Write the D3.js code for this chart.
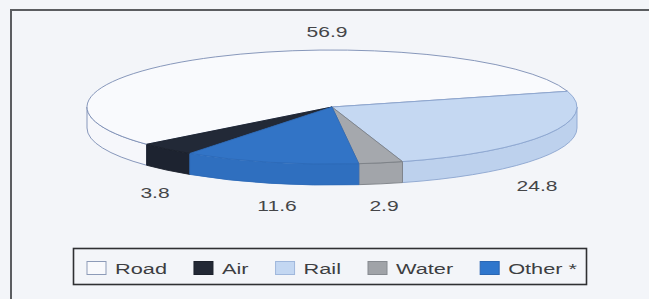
<!DOCTYPE html>
<html>
<head>
<meta charset="utf-8">
<script src="https://cdn.jsdelivr.net/npm/d3@7/dist/d3.min.js"></script>
<style>
  html, body { margin: 0; padding: 0; background: #f3f5f9; }
  svg { display: block; }
  text { font-family: "Liberation Sans", Arial, Helvetica, sans-serif; }
</style>
</head>
<body>
<svg id="chart" width="649" height="299"></svg>
<script>
// ---- data ----
const categories = ["Road", "Air", "Rail", "Water", "Other *"];
const values = [56.9, 3.8, 24.8, 2.9, 11.6];
const valueLabels = ["56.9", "3.8", "24.8", "2.9", "11.6"];
// clockwise order of the slices around the pie, starting at the Rail slice
const sliceOrder = ["Rail", "Water", "Other *", "Air", "Road"];

// ---- styles ----
const topFill = { "Road": "#f9fafd", "Air": "#222937", "Rail": "#c5d8f2", "Water": "#a5a8ad", "Other *": "#3274c6" };
const sideFill = { "Road": "#f6f7fb", "Air": "#1d2330", "Rail": "#bdd1ed", "Water": "#a2a5aa", "Other *": "#2f6fbf" };
const strokeCol = { "Road": "#7a8cb3", "Air": "#1b202b", "Rail": "#8ba5cf", "Water": "#7c8086", "Other *": "#2d6ab8" };
const swatchFill = { "Road": "#f8f9fc", "Air": "#222835", "Rail": "#c3d7f2", "Water": "#a0a3a8", "Other *": "#2f76cc" };
const swatchStroke = { "Road": "#8d9bb8", "Air": "#1b202b", "Rail": "#9fb7dc", "Water": "#868a90", "Other *": "#2a66b2" };

// ---- layout ----
const cx = 332, cy = 107, rx = 245, ry = 57, depth = 21;
const startScreenDeg = -16;           // where the Rail slice begins (screen angle, clockwise from east)
const textScaleX = 1.45;
const labelPos = {                     // centres of the value labels (text layout)
  "Road": [327, 37], "Air": [155, 198], "Rail": [537, 191], "Water": [384, 211], "Other *": [277, 211]
};

const svg = d3.select("#chart");

// frame
svg.append("rect").attr("x", 11).attr("y", 10).attr("width", 700).attr("height", 400)
  .attr("fill", "none").attr("stroke", "#5b5d61").attr("stroke-width", 2);

const data = categories.map((c, i) => ({ cat: c, value: values[i], label: valueLabels[i] }));

const start = (startScreenDeg + 90) * Math.PI / 180;
const pie = d3.pie()
  .value(d => d.value)
  .sort((a, b) => sliceOrder.indexOf(a.cat) - sliceOrder.indexOf(b.cat))
  .startAngle(start)
  .endAngle(start + 2 * Math.PI);
const arcs = pie(data);

// pie angle (0 at 12 o'clock, clockwise) -> screen angle
const scr = a => a - Math.PI / 2;
const pt = (phi, dy = 0) => [cx + rx * Math.cos(phi), cy + ry * Math.sin(phi) + dy];
const f = p => p[0].toFixed(2) + "," + p[1].toFixed(2);

function topPath(a) {
  const p0 = scr(a.startAngle), p1 = scr(a.endAngle);
  const large = (p1 - p0) > Math.PI ? 1 : 0;
  return `M${cx},${cy}L${f(pt(p0))}A${rx},${ry} 0 ${large} 1 ${f(pt(p1))}Z`;
}

function sidePaths(a) {
  const p0 = scr(a.startAngle), p1 = scr(a.endAngle);
  const out = [];
  for (const k of [-2, 0, 2]) {
    const lo = Math.max(p0, k * Math.PI), hi = Math.min(p1, (k + 1) * Math.PI);
    if (hi > lo + 1e-6) {
      out.push(`M${f(pt(lo))}A${rx},${ry} 0 0 1 ${f(pt(hi))}L${f(pt(hi, depth))}A${rx},${ry} 0 0 0 ${f(pt(lo, depth))}Z`);
    }
  }
  return out;
}

const pieG = svg.append("g");
// side walls
arcs.forEach(a => {
  sidePaths(a).forEach(d => {
    pieG.append("path").attr("d", d)
      .attr("fill", sideFill[a.data.cat])
      .attr("stroke", strokeCol[a.data.cat])
      .attr("stroke-width", 0.9)
      .attr("stroke-linejoin", "round");
  });
});
// top faces
arcs.forEach(a => {
  pieG.append("path").attr("d", topPath(a))
    .attr("fill", topFill[a.data.cat])
    .attr("stroke", strokeCol[a.data.cat])
    .attr("stroke-width", 0.9)
    .attr("stroke-linejoin", "round");
});

// value labels
arcs.forEach(a => {
  const p = labelPos[a.data.cat];
  svg.append("text")
    .attr("transform", `translate(${p[0]},${p[1]}) scale(${textScaleX},1)`)
    .attr("text-anchor", "middle")
    .attr("font-size", 14.5)
    .attr("fill", "#444548")
    .text(a.data.label);
});

// legend
const legX = 73.5, legY = 248.5, legW = 513, legH = 36;
svg.append("rect").attr("x", legX).attr("y", legY).attr("width", legW).attr("height", legH)
  .attr("fill", "none").attr("stroke", "#2f3033").attr("stroke-width", 1.6);

let x = 87;
const swW = 19, swH = 13, gap1 = 9, gap2 = 27;
categories.forEach(c => {
  svg.append("rect").attr("x", x).attr("y", 261.5).attr("width", swW).attr("height", swH)
    .attr("fill", swatchFill[c]).attr("stroke", swatchStroke[c]).attr("stroke-width", 1);
  const tx = x + swW + gap1;
  const t = svg.append("text")
    .attr("transform", `translate(${tx},274) scale(${textScaleX},1)`)
    .attr("font-size", 15)
    .attr("fill", "#3d3e42")
    .text(c);
  const w = t.node().getComputedTextLength() * textScaleX;
  x = tx + w + gap2;
});
</script>
</body>
</html>
